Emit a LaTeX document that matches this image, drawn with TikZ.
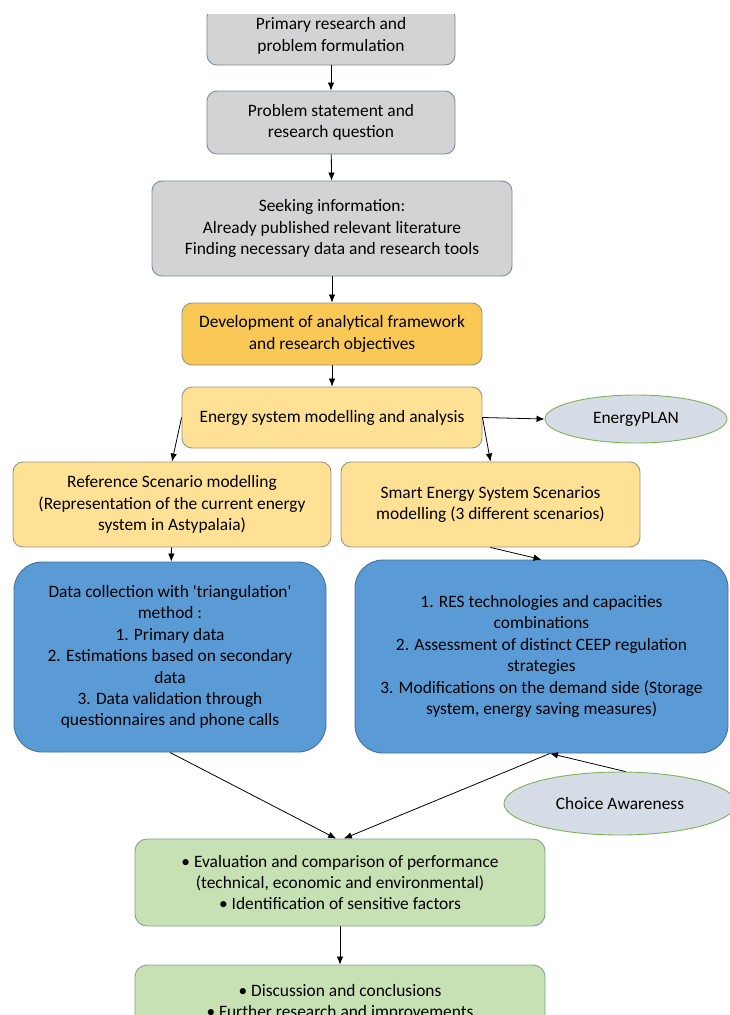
\documentclass[tikz,border=0pt]{standalone}
\usepackage{fontspec}
\setmainfont{Carlito}
\usetikzlibrary{arrows.meta,shapes.geometric}
\definecolor{boxgray}{RGB}{211,211,213}
\definecolor{grayedge}{RGB}{125,140,155}
\definecolor{orangefill}{RGB}{250,200,85}
\definecolor{yellowfill}{RGB}{255,225,150}
\definecolor{yellowedge}{RGB}{150,150,130}
\definecolor{bluefill}{RGB}{91,155,213}
\definecolor{blueedge}{RGB}{65,113,156}
\definecolor{greenfill}{RGB}{200,225,180}
\definecolor{greenedge}{RGB}{130,160,150}
\definecolor{ovalfill}{RGB}{214,220,229}
\definecolor{ovaledge}{RGB}{125,180,90}
\begin{document}
\begin{tikzpicture} [x=1pt, y=-1pt,
	every node/.style = {align=center, inner sep=0pt, font=\fontsize{17.4}{21.4}\selectfont},
	stage/.style = {shape=rectangle, rounded corners=10pt, draw=grayedge, line width=0.9pt},
	graybox/.style = {stage, fill=boxgray},
	orangebox/.style = {stage, fill=orangefill, draw=yellowedge},
	yellowbox/.style = {stage, fill=yellowfill, draw=yellowedge},
	bluebox/.style = {stage, rounded corners=28pt, fill=bluefill, draw=blueedge},
	greenbox/.style = {stage, rounded corners=12pt, fill=greenfill, draw=greenedge},
	tool/.style = {shape=ellipse, fill=ovalfill, draw=ovaledge, line width=0.9pt},
	link/.style = {draw, line width=0.8pt, -{Latex[length=8pt,width=6.5pt]}}]
	\useasboundingbox (0,0) rectangle (730,1015);
	\fill[white] (0,0) rectangle (730,1015);
	\begin{scope}
		\clip (0,14) rectangle (730,1015);
		% research chain
		\node (primary) [graybox, minimum width=248pt, minimum height=58pt] at (331,36)
			{Primary research and\\problem formulation};
		\node (question) [graybox, minimum width=248pt, minimum height=63pt] at (331,122.5)
			{Problem statement and\\research question};
		\node (seeking) [graybox, minimum width=360pt, minimum height=95pt] at (332,228.5)
			{Seeking information:\\Already published relevant literature\\Finding necessary data and research tools};
		\node (framework) [orangebox, minimum width=300pt, minimum height=62pt] at (332,334)
			{Development of analytical framework\\and research objectives};
		\node (modelling) [yellowbox, minimum width=300pt, minimum height=61pt] at (332,417.5)
			{Energy system modelling and analysis};
		\node (energyplan) [tool, minimum width=182pt, minimum height=48pt] at (636,419) {EnergyPLAN};
		% scenarios
		\node (reference) [yellowbox, minimum width=318pt, minimum height=85pt] at (172,504.5)
			{Reference Scenario modelling\\(Representation of the current energy\\system in Astypalaia)};
		\node (smart) [yellowbox, minimum width=299pt, minimum height=85pt] at (490.5,504.5)
			{Smart Energy System Scenarios\\modelling (3 different scenarios)};
		\node (datacoll) [bluebox, minimum width=312pt, minimum height=190pt] at (170,657)
			{Data collection with \textquotesingle triangulation\textquotesingle\\method :\\1. Primary data\\2. Estimations based on secondary\\data\\3. Data validation through\\questionnaires and phone calls};
		\node (options) [bluebox, minimum width=373pt, minimum height=193pt] at (541.5,656.5)
			{1. RES technologies and capacities\\combinations\\2. Assessment of distinct CEEP regulation\\strategies\\3. Modifications on the demand side (Storage\\system, energy saving measures)};
		\node (choice) [tool, minimum width=232pt, minimum height=63pt] at (620,803.5) {Choice Awareness};
		% results
		\node (evaluation) [greenbox, minimum width=410pt, minimum height=87pt] at (340,882.5)
			{• Evaluation and comparison of performance\\(technical, economic and environmental)\\• Identification of sensitive factors};
		\node (discussion) [greenbox, minimum width=410pt, minimum height=75pt] at (340,1002.5)
			{• Discussion and conclusions\\• Further research and improvements};
		\coordinate (meet) at (options.275);
		\draw [link] (primary) -- (question);
		\draw [link] (question) -- (seeking);
		\draw [link] (seeking) -- (framework);
		\draw [link] (framework) -- (modelling);
		\draw [link] (modelling.east) -- (energyplan.west);
		\draw [link] (modelling.west) -- (reference.north);
		\draw [link] (modelling.east) -- (smart.north);
		\draw [link] (reference) -- (datacoll);
		\draw [link] (smart.south) -- (options.north);
		\draw [link] (datacoll.south) -- (evaluation.95);
		\draw [link] (meet) -- (evaluation.85);
		\draw [link] (choice.80) -- (meet);
		\draw [link] (evaluation) -- (discussion);
	\end{scope}
\end{tikzpicture}
\end{document}
